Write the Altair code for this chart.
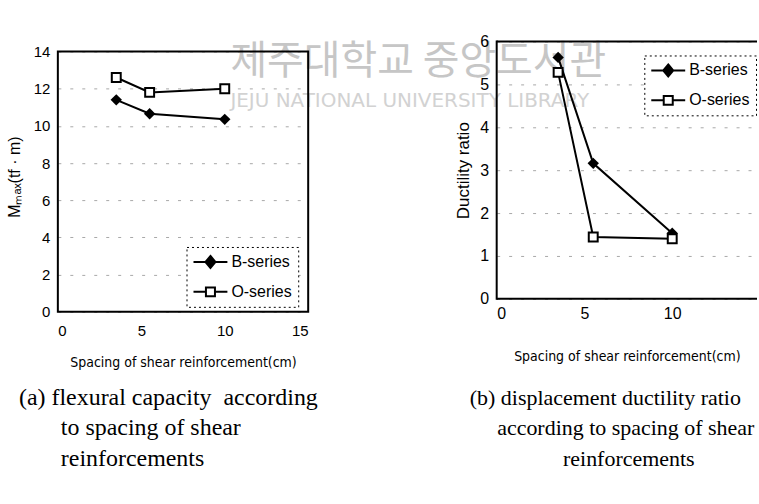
import altair as alt
import pandas as pd

# ---------------- data ----------------
spacing_cm = [3.5, 5.5, 10.0]
series_names = ["B-series", "O-series"]
mmax_B = [11.4, 10.65, 10.35]
mmax_O = [12.6, 11.8, 12.0]
duct_B = [5.63, 3.16, 1.53]
duct_O = [5.28, 1.44, 1.40]
x_ticks = [0, 5, 10, 15]
left_y_ticks = [0, 2, 4, 6, 8, 10, 12, 14]
right_y_ticks = [0, 1, 2, 3, 4, 5, 6]
x_title = "Spacing of shear reinforcement(cm)"
left_y_title = "M\u2098\u2090\u2093(tf \u00b7 m)"
right_y_title = "Ductility ratio"
NB = "\u00a0"
ZW = "\u200b"
caption_a = ["(a) flexural capacity" + NB * 2 + "according",
             ZW + NB * 7 + "to spacing of shear",
             ZW + NB * 7 + "reinforcements"]
caption_b = ["(b) displacement ductility ratio",
             ZW + NB * 5 + "according to spacing of shear",
             ZW + NB * 17 + "reinforcements"]
watermark_kr = ["\uc81c\uc8fc\ub300\ud559\uad50 \uc911\uc559\ub3c4\uc11c\uad00"]
watermark_en = ["JEJU NATIONAL UNIVERSITY LIBRARY"]
left_frame_x = [0, 15]
left_frame_y = [0, 14]
right_x_max = 14.83          # right panel runs off the page edge just before x = 15
right_frame_y = [0, 6]

SANS = "Liberation Sans, Arial, sans-serif"
NARROW = "Liberation Sans Narrow, DejaVu Sans Condensed, sans-serif"
SERIF = "Liberation Serif, Times New Roman, serif"

# legend symbols: a line with a marker on it (unit = sqrt(size)/2 px)
PATH_B = "M-1,0H3.25M1.125,-0.75L1.75,0L1.125,0.75L0.5,0Z"
PATH_O = "M-1,0H0.56M1.69,0H3.25M0.56,-0.56H1.69V0.56H0.56Z"


def long_df(yb, yo):
    rows = []
    for s, ys in zip(series_names, [yb, yo]):
        for xv, yv in zip(spacing_cm, ys):
            rows.append({"spacing": xv, "value": yv, "series": s})
    return pd.DataFrame(rows)


def panel(df, xmax, ydomain, yticks, ytitle, ytitle_size, tick_size, xlab_pad,
          xtitle_pad, ytitle_pad, lx, ly, caption, cap_size, cap_dx, cap_offset):
    x_scale = alt.Scale(domain=[0, xmax], nice=False)
    y_scale = alt.Scale(domain=ydomain, nice=False)
    x_axis = alt.Axis(values=x_ticks, title=x_title, grid=False, domain=False,
                      ticks=False, labelFont=SANS, labelFontSize=tick_size,
                      labelPadding=xlab_pad, labelColor="black", format="d",
                      titleFont=NARROW, titleFontSize=14,
                      titleFontWeight="normal", titleColor="black",
                      titlePadding=xtitle_pad)
    y_axis = alt.Axis(values=yticks, title=ytitle, grid=True, gridDash=[3, 9],
                      gridColor="#a8a8a8", domain=False, ticks=False,
                      labelFont=SANS, labelFontSize=tick_size, labelPadding=8,
                      labelOverlap=False, labelColor="black", titleFont=SANS,
                      titleFontSize=ytitle_size, titleFontWeight="normal",
                      titleColor="black", titlePadding=ytitle_pad)
    x = alt.X("spacing:Q", scale=x_scale, axis=x_axis)
    y = alt.Y("value:Q", scale=y_scale, axis=y_axis)
    base = alt.Chart(df)
    lines = base.mark_line(color="black", strokeWidth=2).encode(x=x, y=y, detail="series:N")
    pts_b = base.transform_filter(alt.datum.series == series_names[0]).mark_point(
        shape="diamond", filled=True, color="black", size=130, opacity=1).encode(x=x, y=y)
    pts_o = base.transform_filter(alt.datum.series == series_names[1]).mark_point(
        shape="square", fill="white", stroke="black", strokeWidth=2, size=80,
        opacity=1).encode(x=x, y=y)
    leg = alt.Legend(title=None, orient="none", legendX=lx, legendY=ly,
                     symbolSize=256, symbolStrokeWidth=2, symbolStrokeColor="black",
                     labelFont=SANS, labelFontSize=16, labelOffset=21,
                     labelColor="black", padding=6, rowPadding=11, fillColor="white",
                     strokeColor="black")
    legend_layer = base.transform_filter("false").mark_point(
        strokeWidth=2, opacity=1).encode(
        x=x, y=y,
        shape=alt.Shape("series:N", scale=alt.Scale(domain=series_names, range=[PATH_B, PATH_O]), legend=leg),
        fill=alt.Fill("series:N", scale=alt.Scale(domain=series_names, range=["black", "white"]), legend=leg),
        stroke=alt.Stroke("series:N", scale=alt.Scale(domain=series_names, range=["black", "black"]), legend=leg))
    layers = [lines, pts_b, pts_o, legend_layer]
    title = alt.TitleParams(text=caption, orient="bottom", anchor="start", frame="group",
                            dx=cap_dx, offset=cap_offset, font=SERIF, fontSize=cap_size,
                            fontWeight="normal", lineHeight=31, color="black")
    return layers, title, x_scale, y_scale, x_axis, y_axis


one_row = pd.DataFrame({"k": [0]})

# ---- left panel (plot area extended upward; its frame is drawn as a data rect) ----
left_layers, left_title, lxs, lys, lxa, lya = panel(
    long_df(mmax_B, mmax_O), 15, [0, 14 * 271 / 261], left_y_ticks, left_y_title, 16,
    15, 12, 17, 11, 129, 206, caption_a, 24, -39, 16)
frame_left = alt.Chart(one_row).mark_rect(
    filled=False, stroke="black", strokeWidth=2).encode(
    x=alt.XDatum(left_frame_x[0], type="quantitative", scale=lxs, axis=lxa),
    x2=alt.X2Datum(left_frame_x[1]),
    y=alt.YDatum(left_frame_y[0], type="quantitative", scale=lys, axis=lya),
    y2=alt.Y2Datum(left_frame_y[1]))
wm_kr = alt.Chart(pd.DataFrame({"t": watermark_kr})).mark_text(
    align="left", baseline="middle", font="Noto Sans CJK KR", fontSize=40,
    color="#c6c6c6").encode(x=alt.value(173), y=alt.value(21), text="t:N")
wm_en = alt.Chart(pd.DataFrame({"t": watermark_en})).mark_text(
    align="left", baseline="middle", font="DejaVu Sans", fontSize=20,
    color="#d2d2d2").encode(x=alt.value(173), y=alt.value(60), text="t:N")
left = alt.layer(wm_kr, wm_en, *left_layers, frame_left).properties(
    width=251, height=271, title=left_title,
    view=alt.ViewBackground(stroke="transparent"))

# ---- right panel (its right edge falls off the page, so only 3 frame sides) ----
right_layers, right_title, rxs, rys, rxa, rya = panel(
    long_df(duct_B, duct_O), right_x_max, [0, 6], right_y_ticks, right_y_title, 17,
    16, 7, 28, 7, 148, 14, caption_b, 22, -27, 24)
frame_r_h = [alt.Chart(one_row).mark_rule(color="black", strokeWidth=2).encode(
    x=alt.XDatum(0, type="quantitative", scale=rxs, axis=rxa),
    x2=alt.X2Datum(right_x_max),
    y=alt.YDatum(v, type="quantitative", scale=rys, axis=rya)) for v in right_frame_y]
frame_r_v = alt.Chart(one_row).mark_rule(color="black", strokeWidth=2, strokeCap="square").encode(
    x=alt.XDatum(0, type="quantitative", scale=rxs, axis=rxa),
    y=alt.YDatum(right_frame_y[0], type="quantitative", scale=rys, axis=rya),
    y2=alt.Y2Datum(right_frame_y[1]))
right = alt.layer(*right_layers, *frame_r_h, frame_r_v).properties(
    width=261, height=258, title=right_title,
    view=alt.ViewBackground(stroke="transparent"))

chart = alt.hconcat(left, right, spacing=189, bounds="flush").resolve_scale(
    shape="independent", fill="independent", stroke="independent"
).configure_legend(
    strokeDash=[2, 3], strokeWidth=1
).properties(padding={"left": 5, "top": 32, "right": 0, "bottom": 0}, background="white")

chart.save("out.html", embed_options={"renderer": "svg", "actions": False})
